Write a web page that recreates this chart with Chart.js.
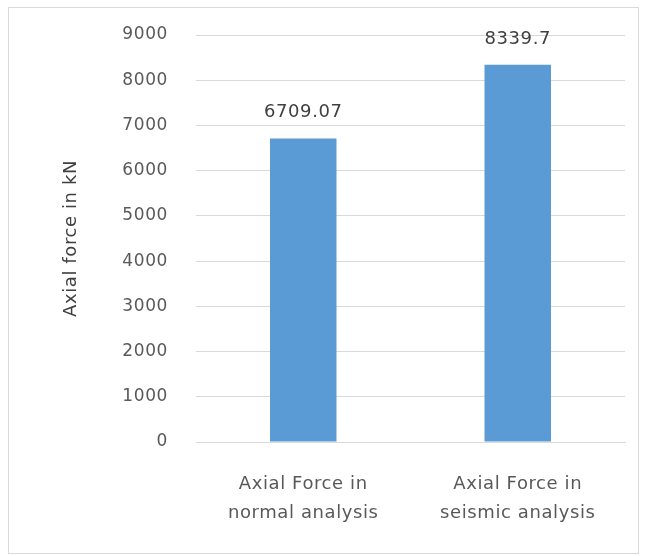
<!DOCTYPE html>
<html>
<head>
<meta charset="utf-8">
<script src="https://cdn.jsdelivr.net/npm/chart.js@4.4.0/dist/chart.umd.min.js"></script>
<style>
html,body{margin:0;padding:0;background:#fff;}
#box{position:absolute;left:8px;top:7px;width:629px;height:545px;border:1px solid #d9d9d9;}
#c{display:block;}
</style>
</head>
<body>
<div id="box"><canvas id="c" width="629" height="545"></canvas></div>
<script>
// valores
const categorias=[["Axial Force in","normal analysis"],["Axial Force in","seismic analysis"]];
const valores=[6709.07,8339.7];
const etiquetas=["6709.07","8339.7"];
const ejeMax=9000,paso=1000;

const fuente="'DejaVu Sans', sans-serif";
const gris="#595959";

// texto algo mas ancho, como en la imagen original
const espaciado={id:"espaciado",beforeUpdate(ch){ch.ctx.letterSpacing="0.6px";}};

// dibuja el valor encima de cada barra
const etiquetaBarras={
  id:"etiquetaBarras",
  afterDatasetsDraw(ch){
    const ctx=ch.ctx;
    ch.getDatasetMeta(0).data.forEach((b,i)=>{
      ctx.save();
      ctx.font="18px "+fuente;ctx.fillStyle="#404040";
      ctx.textAlign="center";ctx.textBaseline="middle";
      ctx.fillText(etiquetas[i],b.x,b.y-26);
      ctx.restore();
    });
  }
};

new Chart(document.getElementById("c"),{
  type:"bar",
  data:{labels:categorias,datasets:[{data:valores,backgroundColor:"#5B9BD5",barPercentage:0.31,categoryPercentage:1}]},
  options:{
    responsive:false,animation:false,
    layout:{padding:{left:0,right:13,top:27,bottom:0}},
    plugins:{legend:{display:false},tooltip:{enabled:false}},
    scales:{
      y:{min:0,max:ejeMax,
        afterFit(s){s.width=187;s.paddingTop=0;s.paddingBottom=0;},
        ticks:{stepSize:paso,color:gris,font:{family:fuente,size:17},padding:28,callback:v=>String(v)},
        grid:{color:"#d9d9d9",drawTicks:false},border:{display:false},
        title:{display:true,text:"Axial force in kN",color:"#404040",font:{family:fuente,size:18},padding:{top:52,bottom:0}}},
      x:{afterFit(s){s.height=111;},
        ticks:{color:gris,font:{family:fuente,size:18,lineHeight:1.6},padding:20},
        grid:{display:false},border:{color:"#d9d9d9"}}
    }
  },
  plugins:[espaciado,etiquetaBarras]
});
</script>
</body>
</html>
